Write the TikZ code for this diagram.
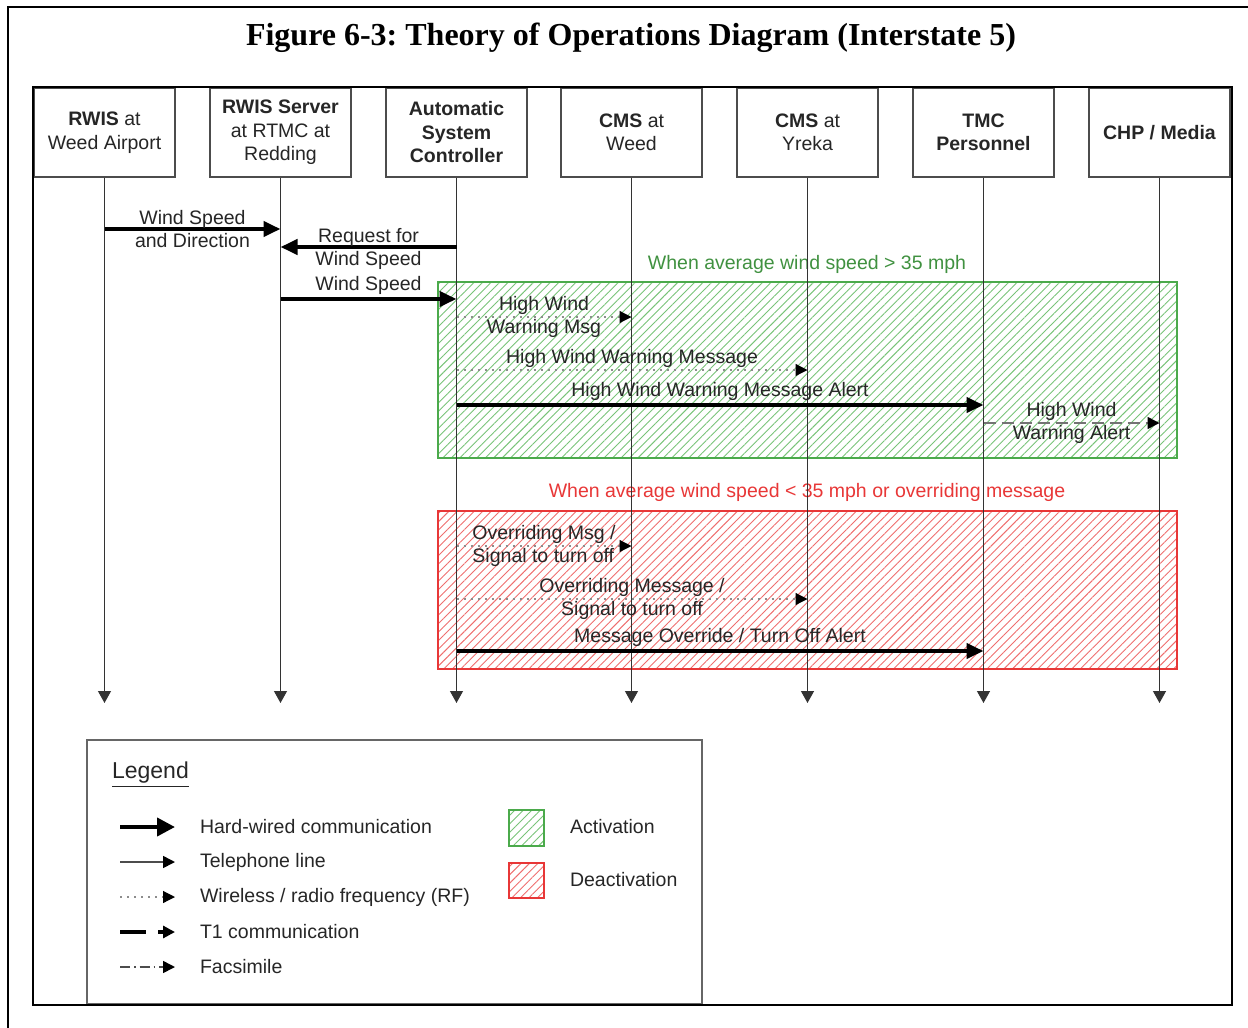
\documentclass[tikz,border=0pt]{standalone}
\usepackage{fontspec}
\setmainfont{Liberation Sans}
\newfontfamily\titlefont{Liberation Serif}
\usetikzlibrary{arrows.meta, patterns.meta}
\frenchspacing

\definecolor{actgreen}{RGB}{75,170,75}
\definecolor{acthatch}{RGB}{120,195,120}
\definecolor{deacred}{RGB}{232,55,55}
\definecolor{deachatch}{RGB}{238,110,110}

\begin{document}
\begin{tikzpicture}[
  x=0.5pt, y=-0.5pt,
  every node/.style={font=\fontsize{9.75}{11.75}\selectfont, text=black!85},
  actor/.style={
    draw=black!70, line width=0.7pt, fill=white,
    minimum width=70.5pt, minimum height=44.5pt, align=center, inner sep=1pt
  },
  life/.style={draw=black!80, line width=0.6pt, -{Triangle[length=6pt, width=6.5pt]}},
  hard/.style={line width=2pt, -{Triangle[length=8.5pt, width=7.5pt]}},
  phone/.style={draw=black!70, line width=0.8pt, -{Triangle[length=6pt, width=6pt, color=black]}},
  wireless/.style={
    draw=black!45, line width=0.6pt, dash pattern=on 1pt off 2.5pt,
    -{Triangle[length=6pt, width=6pt, color=black]}
  },
  tone/.style={
    draw=black!55, line width=0.8pt, dash pattern=on 6pt off 3pt,
    -{Triangle[length=6pt, width=6pt, color=black]}
  },
  fax/.style={
    draw=black!70, line width=0.8pt, dash pattern=on 5pt off 2pt on 0.8pt off 2pt,
    -{Triangle[length=6pt, width=6pt, color=black]}
  },
  lbl/.style={align=center, inner sep=1pt},
  actbox/.style={
    draw=actgreen, line width=0.6pt,
    pattern={Lines[angle=45, distance=3pt, line width=0.45pt]}, pattern color=acthatch
  },
  deacbox/.style={
    draw=deacred, line width=0.6pt,
    pattern={Lines[angle=45, distance=3pt, line width=0.45pt]}, pattern color=deachatch
  }
]
\useasboundingbox (0,0) rectangle (1248,1028);

% page frame and title
\draw[line width=1.2pt] (8,1028) -- (8,7) -- (1248,7);
\node[font=\titlefont\bfseries\fontsize{16}{19}\selectfont, text=black] (title) at (631,38)
  {Figure 6-3: Theory of Operations Diagram (Interstate 5)};

% activation / deactivation regions
\draw[actbox] (438,282) rectangle (1177,458);
\node[text=actgreen!85!black] (actlbl) at (807,264) {When average wind speed > 35 mph};
\draw[deacbox] (438,511) rectangle (1177,669);
\node[text=deacred] (deaclbl) at (807,492) {When average wind speed < 35 mph or overriding message};

% actors
\node[actor] (rwis)   at (104.5,132.5) {\textbf{RWIS} at\\Weed Airport};
\node[actor] (server) at (280.5,132.5) {\textbf{RWIS Server}\\at RTMC at\\Redding};
\node[actor] (asc)    at (456.5,132.5) {\textbf{Automatic}\\\textbf{System}\\\textbf{Controller}};
\node[actor] (cmsw)   at (631.5,132.5) {\textbf{CMS} at\\Weed};
\node[actor] (cmsy)   at (807.5,132.5) {\textbf{CMS} at\\Yreka};
\node[actor] (tmc)    at (983.5,132.5) {\textbf{TMC}\\\textbf{Personnel}};
\node[actor] (chp)    at (1159.5,132.5) {\textbf{CHP / Media}};

% lifelines
\coordinate (bot) at (0,703);
\foreach \a in {rwis,server,asc,cmsw,cmsy,tmc,chp}
  \draw[life] (\a.south) -- (\a.south |- bot);

% messages
\draw[hard] (rwis |- 0,229) -- node[lbl] (w1) {Wind Speed\\and Direction} (server |- 0,229);
\draw[hard] (asc |- 0,247) -- node[lbl, yshift=-1pt] (w2) {Request for\\Wind Speed} (server |- 0,247);
\draw[hard] (server |- 0,299) -- node[lbl, above] (w3) {Wind Speed} (asc |- 0,299);
\draw[wireless] (asc |- 0,317) -- node[lbl] (w4) {High Wind\\Warning Msg} (cmsw |- 0,317);
\draw[wireless] (asc |- 0,370) -- node[lbl, above] (w5) {High Wind Warning Message} (cmsy |- 0,370);
\draw[hard] (asc |- 0,405) -- node[lbl, above] (w6) {High Wind Warning Message Alert} (tmc |- 0,405);
\draw[tone] (tmc |- 0,423) -- node[lbl] (w7) {High Wind\\Warning Alert} (chp |- 0,423);
\draw[wireless] (asc |- 0,546) -- node[lbl, align=left] (o1) {Overriding Msg /\\Signal to turn off} (cmsw |- 0,546);
\draw[wireless] (asc |- 0,599) -- node[lbl] (o2) {Overriding Message /\\Signal to turn off} (cmsy |- 0,599);
\draw[hard] (asc |- 0,651) -- node[lbl, above] (o3) {Message Override / Turn Off Alert} (tmc |- 0,651);

% legend
\draw[draw=black!60, line width=0.7pt] (87,740) rectangle (702,1004);
\node[anchor=west, font=\fontsize{11.5}{13}\selectfont] (legtitle) at (105,775) {\underline{Legend}};
\draw[hard, -{Triangle[length=9pt, width=9pt]}] (120,827) -- (175,827);
\node[anchor=west] (k1) at (193,827) {Hard-wired communication};
\draw[phone] (120,862) -- (175,862);
\node[anchor=west] (k2) at (193,862) {Telephone line};
\draw[wireless] (120,897) -- (175,897);
\node[anchor=west] (k3) at (193,897) {Wireless / radio frequency (RF)};
\draw[tone, draw=black, line width=1.6pt, dash pattern=on 13pt off 6pt] (120,932) -- (175,932);
\node[anchor=west] (k4) at (193,932) {T1 communication};
\draw[fax] (120,967) -- (175,967);
\node[anchor=west] (k5) at (193,967) {Facsimile};
\draw[actbox] (509,810) rectangle (544,846);
\node[anchor=west] (k6) at (563,827) {Activation};
\draw[deacbox] (509,863) rectangle (544,898);
\node[anchor=west] (k7) at (563,880) {Deactivation};

% diagram frame
\draw[line width=1.4pt] (33,87) rectangle (1232,1005);

\end{tikzpicture}
\end{document}
